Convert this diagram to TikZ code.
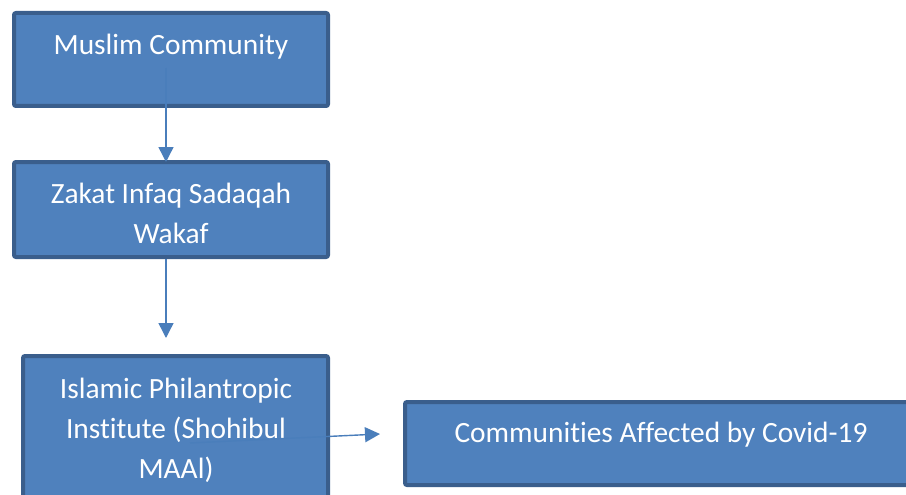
\documentclass[tikz,border=0pt]{standalone}
\usepackage{fontspec}
\setmainfont[Ligatures={NoCommon}]{Carlito}
\usetikzlibrary{arrows.meta}
\definecolor{boxfill}{HTML}{4F81BD}
\definecolor{boxborder}{HTML}{3A5E8C}
\definecolor{arrowc}{HTML}{4A7EBB}
\tikzset{
  flowbox/.style={draw=boxborder, line width=4pt, fill=boxfill, rounded corners=2pt, inner sep=0pt},
  boxtext/.style={text=white, font=\fontsize{29.4pt}{40pt}\selectfont, align=center, inner sep=0pt, anchor=base},
  flowarrow/.style={draw=arrowc, line width=1.4pt, -{Triangle[width=15pt,length=15pt]}}
}
\begin{document}
\begin{tikzpicture}[x=1pt,y=-1pt]
\useasboundingbox (0,0) rectangle (906,495);
\clip (0,0) rectangle (906,495);
% boxes
\node[flowbox, minimum width=314pt, minimum height=93pt] (b1) at (171,59.5) {};
\node[flowbox, minimum width=314pt, minimum height=95pt] (b2) at (171,209.5) {};
\node[flowbox, minimum width=305pt, minimum height=147pt] (b3) at (175.5,429.5) {};
\node[flowbox, minimum width=512pt, minimum height=83pt] (b4) at (661,443.5) {};
% texts (anchor base = baseline of last line)
\node[boxtext] (t1) at (171,55) {Muslim Community};
\node[boxtext] (t2) at (171,243) {Zakat Infaq Sadaqah\\Wakaf};
\node[boxtext] (t3) at (176,478) {Islamic Philantropic\\Institute (Shohibul\\MAAl)};
\node[boxtext] (t4) at (661,442) {Communities Affected by Covid-19};
% connector endpoints
\coordinate (a1s) at (166,68);
\coordinate (a1e) at (166,162);
\coordinate (a2s) at (166,259);
\coordinate (a2e) at (166,338);
\coordinate (a3s) at (190,443);
\coordinate (a3e) at (380,434);
\draw[flowarrow] (a1s) -- (a1e);
\draw[flowarrow] (a2s) -- (a2e);
\draw[flowarrow] (a3s) -- (a3e);
\end{tikzpicture}
\end{document}
